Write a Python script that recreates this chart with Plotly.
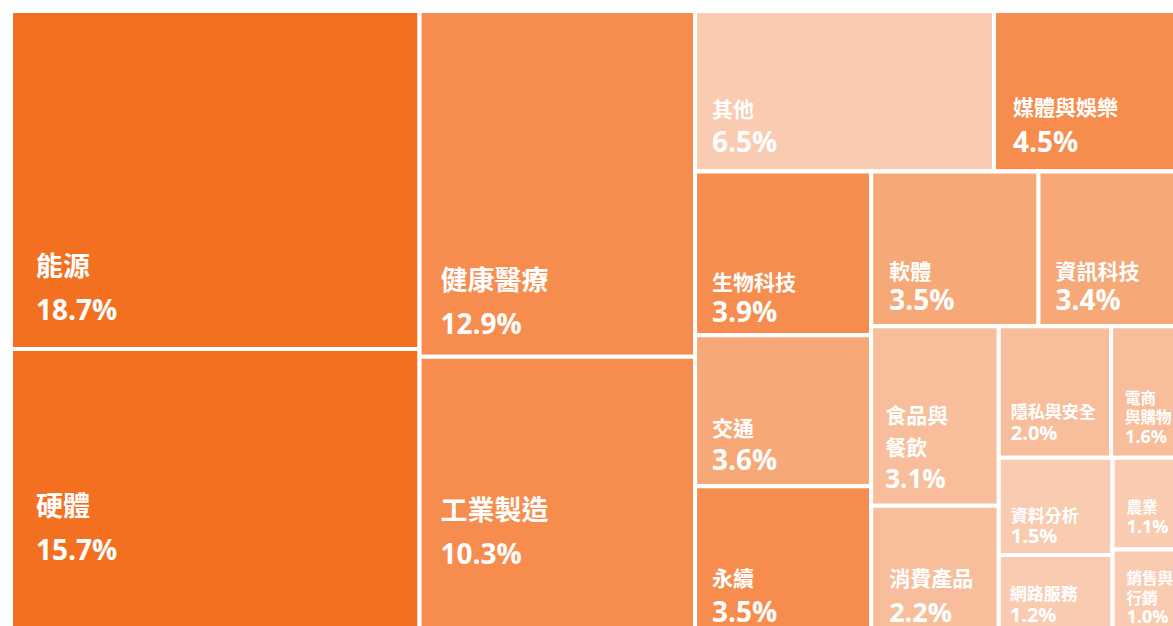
import plotly.graph_objects as go

# ---------------- data ----------------
labels = ["能源", "硬體", "健康醫療", "工業製造", "其他", "媒體與娛樂", "生物科技", "交通", "永續",
          "軟體", "資訊科技", "食品與餐飲", "消費產品", "隱私與安全", "電商與購物", "資料分析",
          "網路服務", "農業", "銷售與行銷"]
values = [18.7, 15.7, 12.9, 10.3, 6.5, 4.5, 3.9, 3.6, 3.5,
          3.5, 3.4, 3.1, 2.2, 2.0, 1.6, 1.5,
          1.2, 1.1, 1.0]
# layout grouping (structural only, drawn invisibly)
groups = ["", "", "", "", "g1", "g1", "g2", "g2", "g2",
          "g2", "g2", "g2", "g2", "g2", "g2", "g2",
          "g2", "g2", "g2"]
group_parent = {"g1": "", "g2": "g1"}
# group node is inserted just before this child so children keep this order
group_before = {"g1": "其他", "g2": "生物科技"}

# label line breaks as displayed
display = {"食品與餐飲": ["食品與", "餐飲"], "電商與購物": ["電商", "與購物"], "銷售與行銷": ["銷售與", "行銷"]}

# ---------------- styles ----------------
C1, C2, C3, C4, C5 = "#F37021", "#F68D4E", "#F6A877", "#F8BE9B", "#F9CCB2"
colors = {"能源": C1, "硬體": C1, "健康醫療": C2, "工業製造": C2, "其他": C5, "媒體與娛樂": C2,
          "生物科技": C2, "交通": C3, "永續": C2, "軟體": C3, "資訊科技": C3, "食品與餐飲": C4,
          "消費產品": C4, "隱私與安全": C4, "電商與購物": C4, "資料分析": C5, "網路服務": C5,
          "農業": C5, "銷售與行銷": C5}
# name size, pct size, line base size, left pad, bottom gap
style = {
    "能源": (27, 28, 34, 24, 27), "硬體": (27, 28, 34, 24, 71),
    "健康醫療": (27, 28, 34, 20, 21), "工業製造": (27, 28, 34, 20, 67),
    "其他": (21, 28, 27, 16, 18), "媒體與娛樂": (21, 28, 28, 18, 18),
    "生物科技": (21, 28, 25, 16, 11), "軟體": (21, 28, 24, 17, 14), "資訊科技": (21, 28, 24, 16, 14),
    "交通": (21, 28, 26, 16, 14), "永續": (21, 28, 28, 16, 9),
    "食品與餐飲": (21, 26, 25, 13, 15.6), "消費產品": (21, 27, 28, 17, 9),
    "隱私與安全": (17, 20, 17, 11, 15.6), "電商與購物": (15.5, 18, 15, 13, 12.6),
    "資料分析": (17, 20, 16.5, 11, 10), "農業": (15.5, 18, 15, 13, 14.5),
    "網路服務": (17, 20, 17, 10, 9), "銷售與行銷": (15.5, 18, 15, 13, 8),
}


def build_text(label, value):
    N, P, b, padL, gap = style[label]
    L = max(padL - 2, 0)
    lead = f"<span style='font-size:{L}px'>\u2003</span>" if L > 0 else ""
    lines = [lead + f"<b><span style='font-size:{N}px'>{ln}</span></b>" for ln in display.get(label, [label])]
    pct = lead + f"<b><span style='font-size:{P}px'>{value:.1f}%</span></b>"
    need = gap - 1
    extra = []
    if need > 0.293 * P + 0.3:
        X = need / 0.293
        if X > 120:
            X2 = (need - 1.3 * b) / 0.293
            extra = [f"<span style='font-size:{X2:.1f}px'>\u00a0</span>"]
        else:
            pct += f"<span style='font-size:{X:.1f}px'>\u00a0</span>"
    return "<br>".join(lines + [pct] + extra), b


ids, parents, vals, texts, cols, sizes = [], [], [], [], [], []
for lab, v, g in zip(labels, values, groups):
    for gid, first in group_before.items():
        if first == lab:
            ids.append(gid); parents.append(group_parent[gid]); vals.append(0)
            texts.append(""); cols.append("#FFFFFF"); sizes.append(12)
    t, b = build_text(lab, v)
    ids.append(lab); parents.append(g); vals.append(v); texts.append(t); cols.append(colors[lab]); sizes.append(b)

fig = go.Figure(go.Treemap(
    ids=ids, labels=ids, parents=parents, values=vals,
    text=texts, textinfo="text", sort=False,
    textposition="bottom left",
    textfont=dict(family="Open Sans, Noto Sans CJK TC, sans-serif", color="white", size=sizes),
    marker=dict(colors=cols, line=dict(width=4, color="white"), pad=dict(t=0, l=0, r=0, b=0),
                depthfade=False),
    tiling=dict(packing="squarify", pad=0),
    pathbar=dict(visible=False),
    root=dict(color="rgba(0,0,0,0)"),
    hoverinfo="skip",
))
fig.update_layout(width=1204, height=636, margin=dict(l=11, r=3, t=11, b=3),
                  paper_bgcolor="white", plot_bgcolor="white")
fig.write_html(
    "out.html",
    config={"responsive": False, "displayModeBar": False},
    post_script=("document.documentElement.style.overflow='hidden';"
                 "document.body.style.overflow='hidden';"
                 "document.body.style.margin='0';"),
)
